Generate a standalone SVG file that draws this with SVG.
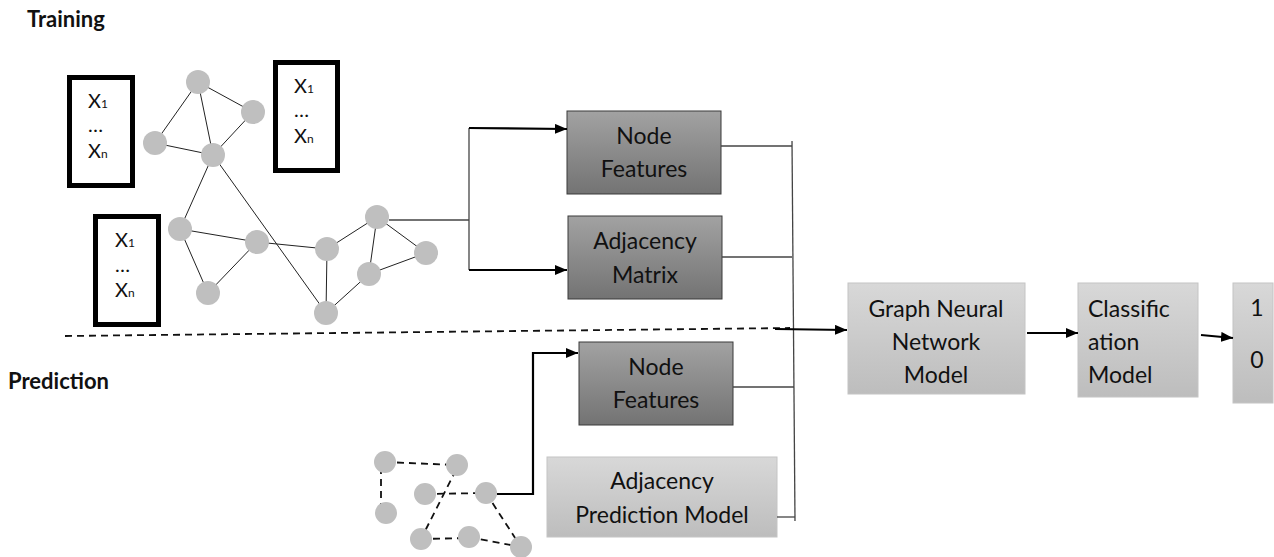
<svg xmlns="http://www.w3.org/2000/svg" width="1274" height="557" viewBox="0 0 1274 557">
<defs>
<linearGradient id="gDark" x1="0" y1="0" x2="0" y2="1"><stop offset="0" stop-color="#a2a2a2"/><stop offset="1" stop-color="#737373"/></linearGradient>
<linearGradient id="gLight" x1="0" y1="0" x2="0" y2="1"><stop offset="0" stop-color="#d8d8d8"/><stop offset="1" stop-color="#bdbdbd"/></linearGradient>
<marker id="arr" viewBox="0 0 12 10" refX="12" refY="5" markerWidth="12" markerHeight="10" markerUnits="userSpaceOnUse" orient="auto"><path d="M0,0 L12,5 L0,10 Z" fill="#000"/></marker>
</defs>
<style>
.t{font-family:Lato,"Open Sans","Liberation Sans",sans-serif;fill:#111;}
.lbl{font-size:23px;}
.hd{font-size:22px;font-weight:bold;}
.x{font-size:20px;}
.sub{font-size:12px;}
.dark{fill:url(#gDark);stroke:#3a3a3a;stroke-width:1;}
.light{fill:url(#gLight);stroke:#c4c4c4;stroke-width:1;}
.feat{fill:#fff;stroke:#000;stroke-width:5;}
.nd{fill:#bfbfbf;}
.e{stroke:#222;stroke-width:1;fill:none;}
.de{stroke:#111;stroke-width:1.8;fill:none;stroke-dasharray:7,5;}
.thin{stroke:#444;stroke-width:1.3;fill:none;}
.arw{stroke:#000;stroke-width:2.2;fill:none;marker-end:url(#arr);}
</style>

<rect width="1274" height="557" fill="#fff"/>

<text class="t hd" x="27" y="27">Training</text>
<text class="t hd" x="8" y="389" font-size="23">Prediction</text>

<g id="feature-boxes">
  <g id="feat1">
    <rect class="feat" x="69.5" y="77.5" width="63" height="108"/>
    <text class="t x" x="88" y="108">X<tspan class="sub">1</tspan></text>
    <text class="t x" x="88" y="132">…</text>
    <text class="t x" x="88" y="158">X<tspan class="sub">n</tspan></text>
  </g>
  <g id="feat2">
    <rect class="feat" x="275.5" y="62.5" width="62" height="108"/>
    <text class="t x" x="294" y="93">X<tspan class="sub">1</tspan></text>
    <text class="t x" x="294" y="117">…</text>
    <text class="t x" x="294" y="143">X<tspan class="sub">n</tspan></text>
  </g>
  <g id="feat3">
    <rect class="feat" x="95.5" y="216.5" width="63" height="108"/>
    <text class="t x" x="115" y="247">X<tspan class="sub">1</tspan></text>
    <text class="t x" x="115" y="272">…</text>
    <text class="t x" x="115" y="297">X<tspan class="sub">n</tspan></text>
  </g>
</g>

<g id="training-graph">
  <g class="e">
    <line x1="198" y1="82" x2="253" y2="112"/>
    <line x1="198" y1="82" x2="155" y2="143"/>
    <line x1="198" y1="82" x2="213" y2="155"/>
    <line x1="253" y1="112" x2="213" y2="155"/>
    <line x1="155" y1="143" x2="213" y2="155"/>
    <line x1="213" y1="155" x2="180" y2="229"/>
    <line x1="213" y1="155" x2="326" y2="313"/>
    <line x1="180" y1="229" x2="257" y2="242"/>
    <line x1="180" y1="229" x2="208" y2="293"/>
    <line x1="257" y1="242" x2="208" y2="293"/>
    <line x1="257" y1="242" x2="327" y2="249"/>
    <line x1="327" y1="249" x2="377" y2="217"/>
    <line x1="327" y1="249" x2="326" y2="313"/>
    <line x1="377" y1="217" x2="369" y2="274"/>
    <line x1="377" y1="217" x2="426" y2="253"/>
    <line x1="426" y1="253" x2="369" y2="274"/>
    <line x1="369" y1="274" x2="326" y2="313"/>
  </g>
  <g class="nd">
    <circle cx="198" cy="82" r="12"/>
    <circle cx="253" cy="112" r="12"/>
    <circle cx="155" cy="143" r="12"/>
    <circle cx="213" cy="155" r="12"/>
    <circle cx="180" cy="229" r="12"/>
    <circle cx="257" cy="242" r="12"/>
    <circle cx="208" cy="293" r="12"/>
    <circle cx="327" cy="249" r="12"/>
    <circle cx="377" cy="217" r="12"/>
    <circle cx="426" cy="253" r="12"/>
    <circle cx="369" cy="274" r="12"/>
    <circle cx="326" cy="313" r="12"/>
  </g>
</g>

<g id="prediction-graph">
  <g class="de">
    <line x1="385" y1="462" x2="457" y2="465"/>
    <line x1="381" y1="467" x2="381" y2="506"/>
    <line x1="456" y1="470" x2="424" y2="533"/>
    <line x1="425" y1="494" x2="486" y2="493"/>
    <line x1="486" y1="493" x2="521" y2="547"/>
    <line x1="421" y1="539" x2="469" y2="538"/>
    <line x1="469" y1="537" x2="521" y2="547"/>
  </g>
  <g class="nd">
    <circle cx="385" cy="462" r="11"/>
    <circle cx="457" cy="465" r="11"/>
    <circle cx="425" cy="494" r="11"/>
    <circle cx="486" cy="493" r="11"/>
    <circle cx="386" cy="513" r="11"/>
    <circle cx="421" cy="539" r="11"/>
    <circle cx="469" cy="537" r="11"/>
    <circle cx="521" cy="547" r="11"/>
  </g>
</g>

<g id="node-features-train">
  <rect class="dark" x="567" y="111" width="154" height="83"/>
  <text class="t lbl" x="644" y="144" text-anchor="middle">Node</text>
  <text class="t lbl" x="644" y="177" text-anchor="middle">Features</text>
</g>
<g id="adjacency-matrix">
  <rect class="dark" x="568" y="216" width="154" height="83"/>
  <text class="t lbl" x="645" y="249" text-anchor="middle">Adjacency</text>
  <text class="t lbl" x="645" y="283" text-anchor="middle">Matrix</text>
</g>
<g id="node-features-pred">
  <rect class="dark" x="579" y="342" width="154" height="83"/>
  <text class="t lbl" x="656" y="375" text-anchor="middle">Node</text>
  <text class="t lbl" x="656" y="408" text-anchor="middle">Features</text>
</g>
<g id="adjacency-prediction-model">
  <rect class="light" x="547" y="457" width="230" height="80"/>
  <text class="t lbl" x="662" y="489" text-anchor="middle">Adjacency</text>
  <text class="t lbl" x="662" y="523" text-anchor="middle">Prediction Model</text>
</g>
<g id="gnn-model">
  <rect class="light" x="848" y="283" width="177" height="111"/>
  <text class="t lbl" x="936" y="317" text-anchor="middle">Graph Neural</text>
  <text class="t lbl" x="936" y="350" text-anchor="middle">Network</text>
  <text class="t lbl" x="936" y="383" text-anchor="middle">Model</text>
</g>
<g id="classification-model">
  <rect class="light" x="1078" y="283" width="120" height="114"/>
  <text class="t lbl" x="1088" y="317">Classific</text>
  <text class="t lbl" x="1088" y="350">ation</text>
  <text class="t lbl" x="1088" y="383">Model</text>
</g>
<g id="output">
  <rect class="light" x="1233" y="283" width="40" height="120"/>
  <text class="t lbl" x="1257" y="316" text-anchor="middle">1</text>
  <text class="t lbl" x="1257" y="368" text-anchor="middle">0</text>
</g>

<g id="connectors">
  <polyline class="thin" points="389,220 469,220"/>
  <line class="thin" x1="469" y1="128" x2="469" y2="270"/>
  <line class="arw" x1="469" y1="128" x2="567" y2="129"/>
  <line class="arw" x1="469" y1="270" x2="567" y2="270"/>
  <line class="thin" x1="721" y1="146" x2="792" y2="146"/>
  <line class="thin" x1="722" y1="257" x2="792" y2="257"/>
  <line class="thin" x1="733" y1="387" x2="794" y2="387"/>
  <line class="thin" x1="777" y1="517" x2="795" y2="517"/>
  <line class="thin" x1="792" y1="141" x2="795" y2="521"/>
  <line class="de" x1="65" y1="336" x2="790" y2="328"/>
  <line class="arw" x1="775" y1="329" x2="847" y2="330"/>
  <polyline class="arw" points="497,494 533,494 533,353 578,353"/>
  <line class="arw" x1="1027" y1="333" x2="1078" y2="333"/>
  <line class="arw" x1="1201" y1="335" x2="1233" y2="338"/>
</g>
</svg>
